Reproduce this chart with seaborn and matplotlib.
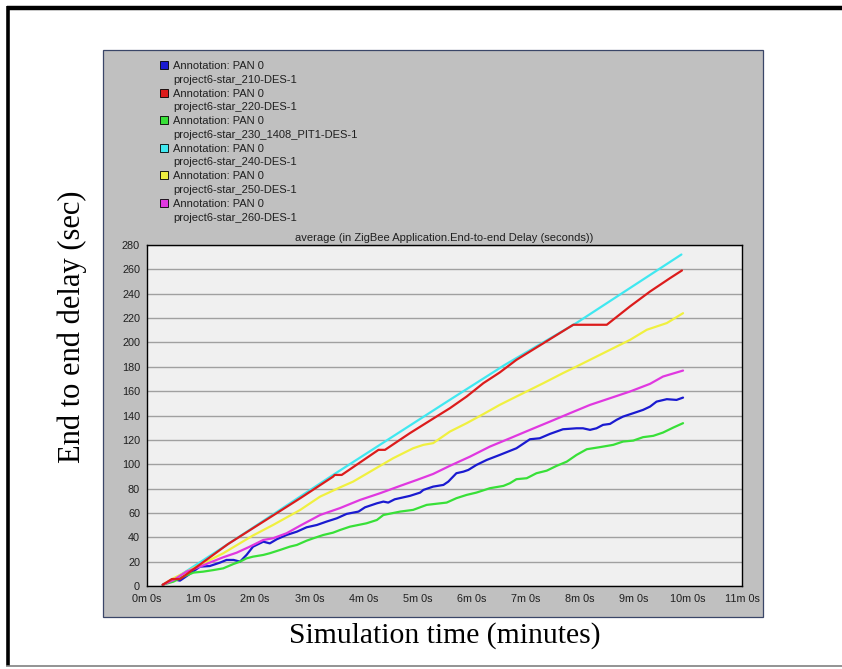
import matplotlib
matplotlib.use("Agg")
import matplotlib.pyplot as plt
from matplotlib.lines import Line2D
from matplotlib.patches import Rectangle
import seaborn as sns
import pandas as pd

# ---------------- data (minutes, seconds) ----------------
series_names = ["210", "220", "230", "240", "250", "260"]
legend_top = "Annotation: PAN 0"
legend_names = [
    "project6-star_210-DES-1",
    "project6-star_220-DES-1",
    "project6-star_230_1408_PIT1-DES-1",
    "project6-star_240-DES-1",
    "project6-star_250-DES-1",
    "project6-star_260-DES-1",
]
colors = ["#1a1ad0", "#dc1c1c", "#38e038", "#40e8f0", "#f0f040", "#e038e0"]

blue_t = [0.29, 0.49, 0.61, 0.79, 0.98, 1.16, 1.35, 1.47, 1.60, 1.72, 1.84, 1.96,
          2.15, 2.27, 2.40, 2.58, 2.77, 2.95, 3.14, 3.32, 3.51, 3.69, 3.91, 4.03,
          4.25, 4.37, 4.46, 4.58, 4.86, 5.05, 5.11, 5.29, 5.48, 5.57, 5.72, 5.85,
          5.94, 6.09, 6.28, 6.52, 6.83, 7.08, 7.26, 7.45, 7.69, 7.94, 8.06, 8.19,
          8.31, 8.43, 8.56, 8.68, 8.80, 8.99, 9.17, 9.30, 9.42, 9.61, 9.79, 9.91]
blue_v = [1, 5.5, 4.4, 9.9, 15.9, 16.4, 19.2, 21.4, 21.4, 20, 25.5, 32.3,
          36.4, 35, 38.4, 41.9, 44.6, 48.2, 50.1, 52.9, 55.6, 59.2, 61.1, 64.6,
          67.9, 69.3, 68.5, 71.2, 74, 76.7, 78.9, 81.6, 83, 85.7, 92.6, 93.9,
          95.3, 99.4, 103.5, 107.6, 113.1, 120.5, 121.3, 124.9, 128.7, 129.5, 129.5, 128.2,
          129.5, 132.3, 133.1, 136.4, 139.1, 141.9, 144.6, 147.3, 151.4, 153.4, 152.8, 154.7]

red_t = [0.29, 0.46, 0.61, 1.5, 2.83, 3.44, 3.47, 3.60, 4.28, 4.40, 4.86, 5.35,
         5.60, 5.91, 6.22, 6.52, 6.83, 7.33, 7.88, 8.50, 8.93, 9.30, 9.67, 9.89]
red_v = [1, 5.7, 5.7, 34.5, 72, 89.8, 91.2, 91.2, 111.8, 111.8, 125.5, 139.1,
         146, 155.6, 166.6, 175.3, 185.7, 199.4, 214.5, 214.5, 229.6, 241.8, 252.8, 259.1]

green_t = [0.29, 0.49, 0.67, 0.86, 1.04, 1.23, 1.41, 1.60, 1.72, 1.84, 1.96, 2.15,
           2.27, 2.46, 2.64, 2.77, 2.95, 3.07, 3.26, 3.44, 3.57, 3.75, 4.06, 4.25,
           4.37, 4.68, 4.92, 5.17, 5.54, 5.72, 5.91, 6.09, 6.34, 6.59, 6.71, 6.83,
           7.02, 7.20, 7.39, 7.57, 7.76, 7.94, 8.13, 8.37, 8.62, 8.80, 8.99, 9.17,
           9.36, 9.54, 9.73, 9.91]
green_v = [1, 3.6, 7.7, 11, 11.8, 13.1, 14.5, 18.1, 20, 22.7, 24.1, 25.5,
           26.9, 29.6, 32.3, 33.7, 37.2, 39.1, 41.9, 43.8, 46, 48.7, 51.5, 54.2,
           58.3, 61.1, 62.5, 66.6, 68.5, 72.1, 74.8, 76.7, 80.3, 82.2, 84.4, 87.7,
           88.5, 92.6, 94.7, 98.6, 102.1, 107.6, 112.3, 114, 115.9, 118.6, 119.4, 122.2,
           123.3, 126, 130.1, 133.7]

cyan_t = [0.29, 0.6, 1.5, 3.44, 5.6, 6.62, 7.94, 9.88]
cyan_v = [1, 8.5, 34.5, 91.2, 152.9, 181.7, 216, 272.2]

yellow_t = [0.29, 0.49, 0.79, 1.10, 1.41, 1.96, 2.33, 2.83, 3.20, 3.57, 3.81, 4.18,
            4.55, 4.92, 5.11, 5.29, 5.60, 5.91, 6.22, 6.52, 6.83, 7.33, 7.69, 7.94,
            8.31, 8.68, 8.93, 9.24, 9.61, 9.91]
yellow_v = [1, 6.3, 13.1, 20, 26.9, 41.5, 50.1, 62.4, 73.4, 81, 85.7, 95.3,
            104.9, 113.1, 115.9, 117.3, 126.8, 133.7, 141.2, 148.7, 155.6, 166.6, 174.8, 180.2,
            188.4, 196.6, 202.1, 210.4, 215.9, 224]

magenta_t = [0.29, 0.49, 0.73, 0.98, 1.16, 1.41, 1.66, 1.90, 2.15, 2.33, 2.58, 2.83,
             3.20, 3.57, 3.94, 4.31, 4.68, 4.99, 5.29, 5.60, 5.97, 6.34, 6.71, 7.08,
             7.45, 7.82, 8.19, 8.56, 8.93, 9.30, 9.54, 9.91]
magenta_v = [1, 4.9, 11.8, 15.9, 19.2, 23.6, 27.4, 32.3, 37.8, 39.2, 43.3, 49.5,
             58.3, 64, 70.7, 76.2, 82.2, 87.1, 92, 98.7, 106.2, 114.5, 121.3, 128.2,
             135, 141.9, 148.7, 154.2, 159.7, 166, 172, 176.9]

x_ticks = list(range(0, 12))
x_tick_labels = [f"{m}m 0s" for m in x_ticks]
y_ticks = list(range(0, 281, 20))

title = "average (in ZigBee Application.End-to-end Delay (seconds))"
ylabel = "End to end delay (sec)"
xlabel = "Simulation time (minutes)"

# ---------------- build long table ----------------
all_t = [blue_t, red_t, green_t, cyan_t, yellow_t, magenta_t]
all_v = [blue_v, red_v, green_v, cyan_v, yellow_v, magenta_v]
frames = []
for name, t, v in zip(series_names, all_t, all_v):
    frames.append(pd.DataFrame({"t": t, "v": v, "series": name}))
df = pd.concat(frames, ignore_index=True)
palette = dict(zip(series_names, colors))
draw_order = ["240", "210", "230", "250", "260", "220"]

# ---------------- figure ----------------
sns.set_style("white")
W, H = 842, 669
fig = plt.figure(figsize=(W / 100, H / 100), dpi=100)
fig.patch.set_facecolor("white")

def fx(px):
    return px / W

def fy(py):
    return 1 - py / H

# outer frame lines
fig.add_artist(Line2D([fx(7), fx(842)], [fy(7.5), fy(7.5)], color="black", lw=3.2,
                      transform=fig.transFigure, solid_capstyle="butt"))
fig.add_artist(Line2D([fx(7.5), fx(7.5)], [fy(6), fy(666)], color="black", lw=2.6,
                      transform=fig.transFigure, solid_capstyle="butt"))
fig.add_artist(Line2D([fx(6), fx(842)], [fy(665.5), fy(665.5)], color="#808080", lw=1.2,
                      transform=fig.transFigure, solid_capstyle="butt"))

# grey OPNET panel
fig.add_artist(Rectangle((fx(103), fy(617)), fx(763) - fx(103), fy(50) - fy(617),
                         transform=fig.transFigure, facecolor="#c0c0c0",
                         edgecolor="#3a4668", lw=0.9, zorder=0))

ax = fig.add_axes([fx(147), fy(586), fx(742) - fx(147), fy(245) - fy(586)])
ax.set_facecolor("#f0f0f0")

sns.lineplot(data=df, x="t", y="v", hue="series", palette=palette,
             hue_order=draw_order, estimator=None, sort=False,
             linewidth=1.6, legend=False, ax=ax)

ax.set_xlim(0, 11)
ax.set_ylim(0, 280)
ax.set_xticks(x_ticks)
ax.set_xticklabels(x_tick_labels)
ax.set_yticks(y_ticks)
ax.yaxis.grid(True, color="#a0a0a0", lw=1.0)
ax.xaxis.grid(False)
ax.set_axisbelow(True)
for s in ax.spines.values():
    s.set_color("black")
    s.set_linewidth(1.0)
    s.set_visible(True)
ax.tick_params(axis="both", direction="out", length=3.5, width=0.9, color="black",
               labelsize=7.8, pad=1.5, labelcolor="#202020")
ax.tick_params(axis="x", pad=2)
for lab in ax.get_xticklabels() + ax.get_yticklabels():
    lab.set_fontfamily("Liberation Sans")

ax.set_title(title, fontsize=8, family="Liberation Sans", color="#202020", pad=3)

ax.set_xlabel(xlabel, fontsize=21.3, family="Liberation Serif", color="black")
ax.set_ylabel(ylabel, fontsize=22, family="Liberation Serif", color="black")
ax.xaxis.set_label_coords(0.5, (586 - 622) / 341)
ax.yaxis.set_label_coords((87 - 147) / 595, (586 - 327) / 341)

# legend (two lines per entry, marker on the first line)
handles, labels = [], []
for c, nm in zip(colors, legend_names):
    handles.append(Line2D([], [], linestyle="none", marker="s", markersize=5.6,
                          markerfacecolor=c, markeredgecolor="black", markeredgewidth=0.6))
    labels.append(legend_top)
    handles.append(Line2D([], [], linestyle="none", marker=None))
    labels.append(nm)
leg = fig.legend(handles, labels, loc="upper left",
                 bbox_to_anchor=(fx(159), fy(61)), bbox_transform=fig.transFigure,
                 frameon=False, handlelength=0.9, handletextpad=0.35,
                 labelspacing=0.34, borderpad=0, borderaxespad=0,
                 prop={"family": "Liberation Sans", "size": 8})
for t in leg.get_texts():
    t.set_color("#202020")

fig.savefig("out.png", dpi=100, facecolor="white")
